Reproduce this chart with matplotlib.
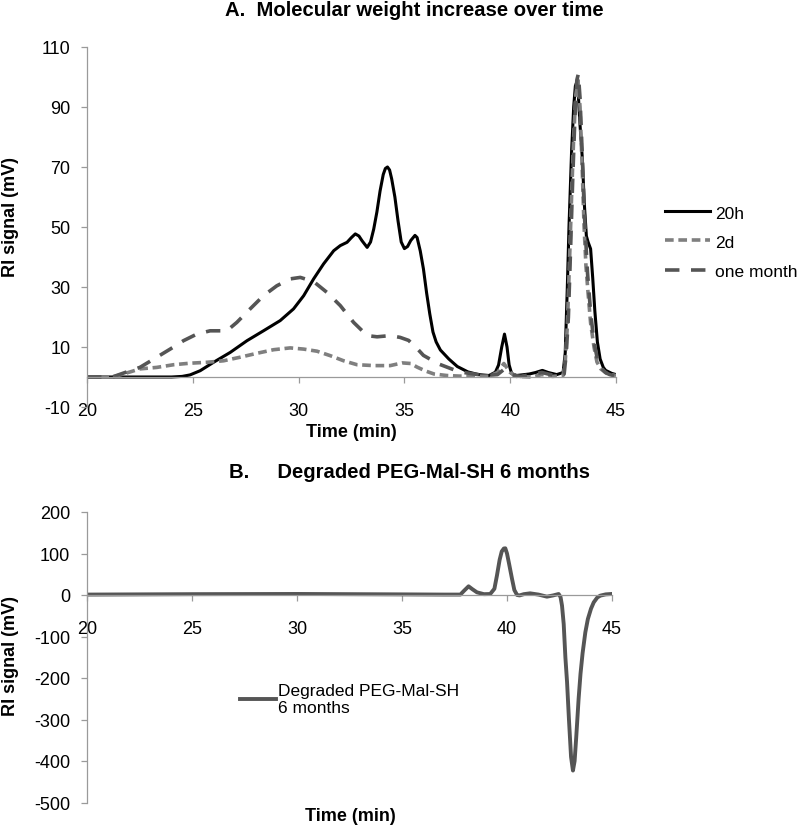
import matplotlib
matplotlib.use("Agg")
import matplotlib.pyplot as plt

plt.rcParams['font.family'] = ['Liberation Sans', 'DejaVu Sans']
plt.rcParams['axes.unicode_minus'] = False

# panel A : RI signal (mV) vs time (min)
t_20h = [20.0, 22.0, 24.0, 24.5, 24.87, 25.35, 25.98, 26.77, 27.56, 28.34, 29.13, 29.76,
         30.24, 30.71, 31.18, 31.66, 31.97, 32.29, 32.5, 32.68, 32.85, 33.0, 33.24, 33.4,
         33.55, 33.7, 33.85, 34.0, 34.1, 34.2, 34.3, 34.4, 34.55, 34.7, 34.85, 35.0, 35.15,
         35.3, 35.5, 35.6, 35.75, 35.9, 36.05, 36.2, 36.35, 36.5, 36.7, 37.1, 37.5, 38.0,
         38.5, 39.0, 39.3, 39.45, 39.6, 39.73, 39.85, 39.95, 40.07, 40.3, 40.9, 41.2, 41.52,
         41.8, 42.2, 42.5, 42.6, 42.7, 42.78, 42.9, 43.0, 43.08, 43.14, 43.22, 43.3, 43.41,
         43.5, 43.6, 43.68, 43.8, 43.9, 44.0, 44.12, 44.25, 44.4, 44.51, 44.8, 45.0]
v_20h = [0, 0, 0, 0.2, 0.7, 2.1, 4.9, 8.2, 12.1, 15.4, 18.8, 22.7,
         27.1, 32.7, 37.7, 42.1, 43.8, 44.9, 46.5, 47.7, 47.0, 45.4, 43.2, 45.0,
         49.3, 55.0, 62.0, 67.5, 69.5, 70.0, 69.0, 66.0, 60.0, 52.0, 45.0, 42.8, 43.5,
         45.5, 47.2, 46.5, 42.0, 36.0, 28.0, 21.0, 15.0, 11.7, 9.0, 6.0, 3.5, 1.7,
         0.8, 0.5, 1.6, 4.0, 10.0, 14.3, 10.0, 4.0, 1.1, 0.5, 1.0, 1.5, 2.2,
         1.5, 0.8, 1.5, 8.0, 30.0, 50.4, 75.0, 90.0, 97.0, 98.2, 94.0, 84.0, 72.7,
         58.0, 47.0, 45.0, 42.7, 33.0, 22.0, 11.7, 6.0, 3.2, 2.2, 1.2, 0.8]

t_2d = [20.0, 21.2, 21.72, 22.5, 23.3, 24.1, 24.87, 25.66, 26.45, 27.24, 28.03, 28.82,
        29.6, 30.24, 30.87, 31.5, 32.13, 32.76, 33.55, 34.33, 34.9, 35.3, 35.6, 36.0,
        36.4, 37.0, 37.6, 39.0, 39.4, 39.7, 40.0, 40.3, 41.0, 41.5, 42.0, 42.5, 42.6,
        42.7, 42.8, 42.9, 43.0, 43.1, 43.2, 43.3, 43.4, 43.49, 43.58, 43.68, 43.8, 43.96,
        44.1, 44.28, 44.6, 45.0]
v_2d = [0, 0, 1.0, 2.7, 3.2, 4.1, 4.6, 4.9, 5.4, 6.6, 7.9, 9.1,
        9.7, 9.3, 8.6, 7.1, 5.4, 4.1, 3.8, 3.8, 4.7, 4.5, 3.3, 2.0,
        1.0, 0.5, 0.3, 0.3, 1.5, 4.5, 1.5, 0.2, 0, 0.8, 0.2, 0.5, 5.0,
        17.0, 38.0, 60.0, 80.0, 94.0, 99.0, 90.0, 70.0, 50.4, 37.0, 28.0, 18.0, 10.0,
        5.0, 2.7, 1.0, 0.5]

t_month = [20.0, 21.2, 21.72, 22.5, 23.3, 23.93, 24.56, 25.19, 25.82, 26.61, 27.08, 27.71,
           28.34, 28.97, 29.6, 30.08, 30.71, 31.34, 31.97, 32.6, 33.24, 33.71, 34.33, 34.8,
           35.2, 35.6, 35.9, 36.6, 37.6, 38.8, 39.4, 39.7, 40.0, 40.5, 41.5, 42.2, 42.55,
           42.65, 42.75, 42.85, 42.95, 43.05, 43.15, 43.22, 43.3, 43.4, 43.5, 43.65, 43.8,
           43.95, 44.12, 44.3, 44.5, 44.7, 45.0]
v_month = [0, 0, 1.3, 3.2, 6.6, 9.3, 12.1, 14.3, 15.4, 15.4, 18.2, 22.7,
           27.1, 30.4, 32.7, 33.2, 31.8, 28.2, 23.8, 18.2, 13.8, 13.4, 13.8, 13.2,
           12.2, 9.5, 7.2, 4.4, 1.7, 0.5, 0.8, 2.5, 0.8, 0.2, 1.5, 0.3, 1.0,
           8.0, 20.0, 42.0, 65.0, 85.0, 99.0, 101.0, 93.0, 75.0, 55.0, 35.0, 21.6,
           12.0, 6.0, 3.0, 1.5, 0.8, 0.3]

# panel B : degraded sample
t_deg = [20.0, 25.0, 30.0, 35.0, 37.0, 37.78, 37.95, 38.17, 38.35, 38.57, 38.9, 39.2,
         39.4, 39.52, 39.65, 39.75, 39.85, 39.92, 40.0, 40.1, 40.24, 40.35, 40.48, 40.6,
         40.8, 41.1, 41.5, 41.9, 42.2, 42.46, 42.55, 42.62, 42.7, 42.78, 42.86, 42.95,
         43.05, 43.14, 43.22, 43.3, 43.41, 43.5, 43.6, 43.73, 43.85, 44.0, 44.13, 44.3,
         44.44, 44.7, 44.95]
v_deg = [1, 2, 2.5, 1.5, 1, 1, 10, 20.9, 14, 6.4, 2, 2.4,
         15, 46.6, 85, 105, 112, 112.5, 100, 75, 38.6, 12, 0, -1,
         2, 4, 1, -4, -1, 2.4, -5, -25.7, -70, -150, -210, -300,
         -390, -423, -400, -340, -250, -190, -140, -90, -58, -33, -17.7, -6,
         -1.6, 1.5, 2.4]

x_ticks = [20, 25, 30, 35, 40, 45]
yA_ticks = [-10, 10, 30, 50, 70, 90, 110]
yB_ticks = [-500, -400, -300, -200, -100, 0, 100, 200]

W, H = 800, 828
fig = plt.figure(figsize=(W / 100, H / 100), dpi=100)

axA = fig.add_axes([87 / W, 1 - 408 / H, 529 / W, 360 / H])
axB = fig.add_axes([87 / W, 1 - 803.5 / H, 525 / W, 290.5 / H])

axA.plot(t_20h, v_20h, color='black', lw=2.2, label='20h')
axA.plot(t_2d, v_2d, color='#7f7f7f', lw=2.6, dashes=(2.4, 1.3), label='2d')
axA.plot(t_month, v_month, color='#555555', lw=2.6, dashes=(4.0, 3.2), label='one month')

axB.plot(t_deg, v_deg, color='#555555', lw=2.8, label='Degraded PEG-Mal-SH\n6 months')

for ax, lo, hi, yt in [(axA, -10, 110, yA_ticks), (axB, -500, 200, yB_ticks)]:
    ax.set_xlim(20, 45)
    ax.set_ylim(lo, hi)
    ax.set_xticks(x_ticks)
    ax.set_yticks(yt)
    ax.spines['top'].set_visible(False)
    ax.spines['right'].set_visible(False)
    ax.spines['bottom'].set_position(('data', 0))
    for s in ['left', 'bottom']:
        ax.spines[s].set_color('#9a9a9a')
        ax.spines[s].set_linewidth(0.9)
    ax.tick_params(axis='both', colors='#9a9a9a', labelcolor='black', labelsize=13,
                   length=4, width=0.9, direction='out')
    ax.tick_params(axis='x', pad=14)
    ax.tick_params(axis='y', pad=8)

axA.legend(loc='center left', bbox_to_anchor=(665 / W, 1 - 243 / H), bbox_transform=fig.transFigure,
           frameon=False, fontsize=12.5, handlelength=2.6, handletextpad=0.3, labelspacing=0.8,
           borderpad=0, borderaxespad=0)
axB.legend(loc='center left', bbox_to_anchor=(240 / W, 1 - 700 / H), bbox_transform=fig.transFigure,
           frameon=False, fontsize=12.5, handlelength=2.1, handletextpad=0.1,
           borderpad=0, borderaxespad=0)

fig.text(414 / W, 1 - 10 / H, 'A.  Molecular weight increase over time', ha='center', va='center',
         fontsize=14.6, fontweight='bold')
fig.text(410 / W, 1 - 473 / H, 'B.     Degraded PEG-Mal-SH 6 months', ha='center', va='center',
         fontsize=14.6, fontweight='bold')
fig.text(351 / W, 1 - 433 / H, 'Time (min)', ha='center', va='center', fontsize=13, fontweight='bold')
fig.text(350 / W, 1 - 817 / H, 'Time (min)', ha='center', va='center', fontsize=13, fontweight='bold')
fig.text(11 / W, 1 - 217 / H, 'RI signal (mV)', ha='center', va='center', rotation=90,
         fontsize=13, fontweight='bold')
fig.text(11 / W, 1 - 656 / H, 'RI signal (mV)', ha='center', va='center', rotation=90,
         fontsize=13, fontweight='bold')

fig.savefig('out.png', dpi=100)
